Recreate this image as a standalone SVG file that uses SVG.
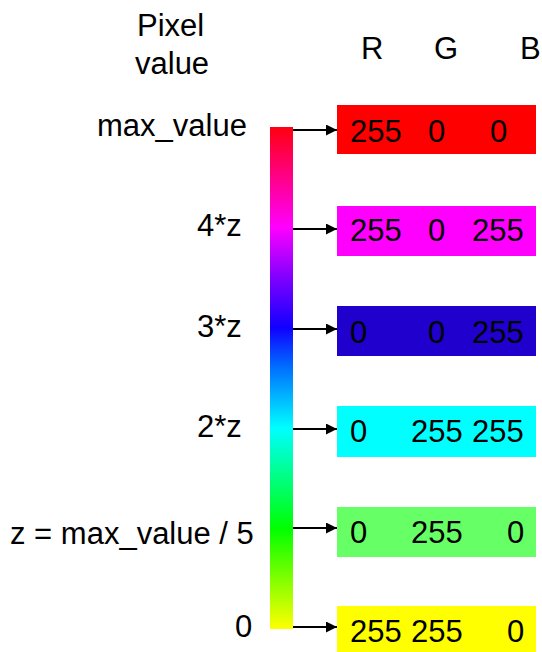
<svg xmlns="http://www.w3.org/2000/svg" width="542" height="652" viewBox="0 0 542 652">
<style>
text{font-family:"Liberation Sans",Arial,sans-serif;font-size:31px;fill:#000}
.conn line{stroke:#000;stroke-width:2}
</style>
<defs>
<linearGradient id="bar" x1="0" y1="0" x2="0" y2="1">
<stop offset="0" stop-color="#ff0010"/>
<stop offset="0.2" stop-color="#ff00ff"/>
<stop offset="0.3" stop-color="#8000ff"/>
<stop offset="0.4" stop-color="#1000ff"/>
<stop offset="0.48" stop-color="#0070ff"/>
<stop offset="0.6" stop-color="#00ffff"/>
<stop offset="0.7" stop-color="#00ff80"/>
<stop offset="0.8" stop-color="#00ff00"/>
<stop offset="0.9" stop-color="#80ff00"/>
<stop offset="1" stop-color="#ffff00"/>
</linearGradient>
<marker id="ah" viewBox="0 0 10 10" refX="10" refY="5" markerWidth="11" markerHeight="11" markerUnits="userSpaceOnUse" orient="auto">
<path d="M0,0 L10,5 L0,10 z" fill="#000"/>
</marker>
</defs>
<g id="header">
<text x="137" y="36">Pixel</text>
<text x="135" y="74">value</text>
<text x="361" y="59">R</text>
<text x="434" y="59">G</text>
<text x="520" y="59">B</text>
</g>
<g id="labels">
<text x="97" y="136">max_value</text>
<text x="197" y="236">4*z</text>
<text x="197" y="337">3*z</text>
<text x="197" y="437">2*z</text>
<text x="10" y="544">z = max_value / 5</text>
<text x="235" y="637">0</text>
</g>
<g id="colorbar">
<rect x="270" y="127" width="23" height="502" fill="url(#bar)"/>
</g>
<g class="conn" id="connectors">
<line x1="293" y1="130" x2="337" y2="130" marker-end="url(#ah)"/>
<line x1="293" y1="229" x2="337" y2="229" marker-end="url(#ah)"/>
<line x1="293" y1="329" x2="337" y2="329" marker-end="url(#ah)"/>
<line x1="293" y1="429" x2="337" y2="429" marker-end="url(#ah)"/>
<line x1="293" y1="528" x2="337" y2="528" marker-end="url(#ah)"/>
<line x1="293" y1="627" x2="337" y2="627" marker-end="url(#ah)"/>
</g>
<g id="row-red">
<rect x="337" y="105" width="199" height="49" fill="#ff0000"/>
<text x="350" y="142">255</text><text x="428" y="142">0</text><text x="490" y="142">0</text>
</g>
<g id="row-magenta">
<rect x="337" y="206" width="199" height="50" fill="#ff00ff"/>
<text x="350" y="241">255</text><text x="428" y="241">0</text><text x="472" y="241">255</text>
</g>
<g id="row-blue">
<rect x="337" y="306" width="199" height="50" fill="#2000cc"/>
<text x="350" y="343">0</text><text x="428" y="343">0</text><text x="472" y="343">255</text>
</g>
<g id="row-cyan">
<rect x="337" y="406" width="199" height="51" fill="#00ffff"/>
<text x="350" y="442">0</text><text x="411" y="442">255</text><text x="472" y="442">255</text>
</g>
<g id="row-green">
<rect x="337" y="507" width="199" height="50" fill="#66ff66"/>
<text x="350" y="543">0</text><text x="411" y="543">255</text><text x="507" y="543">0</text>
</g>
<g id="row-yellow">
<rect x="337" y="606" width="199" height="46" fill="#ffff00"/>
<text x="350" y="642">255</text><text x="411" y="642">255</text><text x="507" y="642">0</text>
</g>
</svg>
